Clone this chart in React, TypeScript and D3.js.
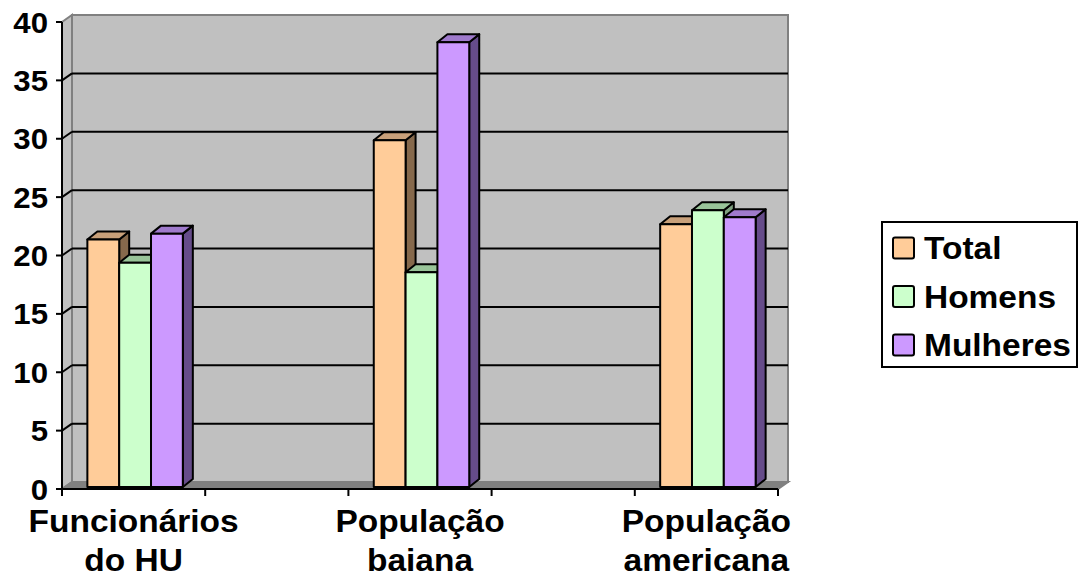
import React from "react";
import * as d3 from "d3";

// Categories (blank slots act as spacers between the labelled groups)
const categories = ["Funcionários do HU", "gap1", "População baiana", "gap2", "População americana"];
const categoryLines: Record<string, string[]> = {
  "Funcionários do HU": ["Funcionários", "do HU"],
  "População baiana": ["População", "baiana"],
  "População americana": ["População", "americana"],
};
const seriesNames = ["Total", "Homens", "Mulheres"];
const totalValues = [21.2, null, 29.7, null, 22.5];
const homensValues = [19.2, null, 18.4, null, 23.7];
const mulheresValues = [21.7, null, 38.1, null, 23.1];
const yTicks = [0, 5, 10, 15, 20, 25, 30, 35, 40];

const seriesValues = [totalValues, homensValues, mulheresValues];
const seriesColors = [
  { front: "#FFCC99", top: "#C8A07A", side: "#86694C" },
  { front: "#CCFFCC", top: "#99C499", side: "#7FA07F" },
  { front: "#CC99FF", top: "#9F7ACC", side: "#664C8A" },
];

const W = 1081;
const H = 583;
const FONT = "'Liberation Sans', Arial, sans-serif";
const STRETCH = 1.08;

export default function App() {
  // front plane of the plot
  const x0 = 62;
  const x1 = 778;
  const yBottom = 489;
  const yTop = 22;
  // wall depth offset
  const DX = 10;
  const DY = -7;

  const y = d3.scaleLinear().domain([0, 40]).range([yBottom, yTop]);
  const xBand = d3.scaleBand<string>().domain(categories).range([x0, x1]).padding(0);
  const catW = xBand.bandwidth();
  const barW = catW / 4.5;
  const gapOffset = barW * 0.75;

  // bars sit slightly behind the front plane
  const bx = 1.5;
  const by = -2;
  const bDX = 10;
  const bDY = -8;

  const gridVals = yTicks.filter((v) => v > 0 && v < 40);

  const bars: React.ReactNode[] = [];
  categories.forEach((c, ci) => {
    seriesValues.forEach((vals, si) => {
      const v = vals[ci];
      if (v == null) return;
      const left = (xBand(c) as number) + gapOffset + si * barW + bx;
      const right = left + barW;
      const top = y(v) + by;
      const base = yBottom + by;
      const col = seriesColors[si];
      bars.push(
        <g key={`${c}-${si}`} stroke="#000" strokeWidth={2} strokeLinejoin="round">
          <polygon
            points={`${right},${top} ${right + bDX},${top + bDY} ${right + bDX},${base + bDY} ${right},${base}`}
            fill={col.side}
          />
          <polygon
            points={`${left},${top} ${left + bDX},${top + bDY} ${right + bDX},${top + bDY} ${right},${top}`}
            fill={col.top}
          />
          <rect x={left} y={top} width={barW} height={base - top} fill={col.front} />
        </g>
      );
    });
  });

  const boundaries = d3.range(categories.length + 1).map((i) => x0 + i * catW);

  return (
    <svg width={W} height={H} style={{ position: "absolute", left: 0, top: 0, background: "#fff" }}>
      {/* back wall */}
      <rect x={x0 + DX} y={yTop + DY} width={x1 - x0} height={yBottom - yTop} fill="#C0C0C0" stroke="#808080" strokeWidth={2} />
      {/* left wall */}
      <polygon
        points={`${x0},${yTop} ${x0 + DX},${yTop + DY} ${x0 + DX},${yBottom + DY} ${x0},${yBottom}`}
        fill="#C0C0C0"
        stroke="#808080"
        strokeWidth={2}
      />
      {/* floor */}
      <polygon
        points={`${x0},${yBottom} ${x0 + DX},${yBottom + DY} ${x1 + DX},${yBottom + DY} ${x1},${yBottom}`}
        fill="#808080"
        stroke="#808080"
        strokeWidth={2}
      />
      {/* gridlines */}
      {gridVals.map((v) => (
        <g key={`g${v}`} stroke="#000" strokeWidth={2}>
          <line x1={x0} y1={y(v)} x2={x0 + DX} y2={y(v) + DY} />
          <line x1={x0 + DX} y1={y(v) + DY} x2={x1 + DX} y2={y(v) + DY} />
        </g>
      ))}
      {bars}
      {/* axes */}
      <line x1={x0} y1={yTop} x2={x0} y2={yBottom} stroke="#000" strokeWidth={2} />
      <line x1={x0} y1={yBottom} x2={x1} y2={yBottom} stroke="#000" strokeWidth={2} />
      {yTicks.map((v) => (
        <g key={`t${v}`}>
          <line x1={x0 - 6} y1={y(v)} x2={x0} y2={y(v)} stroke="#000" strokeWidth={2} />
          <g transform={`translate(48,${y(v) + 10.5}) scale(1.04,1)`}>
            <text x={0} y={0} textAnchor="end" fontFamily={FONT} fontWeight="bold" fontSize={30} fill="#000">
              {v}
            </text>
          </g>
        </g>
      ))}
      {boundaries.map((bx0, i) => (
        <line key={`xt${i}`} x1={bx0} y1={yBottom} x2={bx0} y2={yBottom + 7} stroke="#000" strokeWidth={2} />
      ))}
      {categories.map((c) =>
        categoryLines[c] ? (
          <g key={`cl${c}`} transform={`translate(${(xBand(c) as number) + catW / 2},0) scale(${STRETCH},1)`}>
            <text textAnchor="middle" fontFamily={FONT} fontWeight="bold" fontSize={31} fill="#000">
              {categoryLines[c].map((ln, li) => (
                <tspan key={li} x={0} y={532 + li * 39}>
                  {ln}
                </tspan>
              ))}
            </text>
          </g>
        ) : null
      )}
      {/* legend */}
      <rect x={882} y={222} width={195} height={145} fill="#fff" stroke="#000" strokeWidth={2} />
      {seriesNames.map((s, i) => (
        <g key={s}>
          <rect x={893} y={237.5 + i * 48.5} width={21} height={21} rx={2} fill={seriesColors[i].front} stroke="#000" strokeWidth={2} />
          <g transform={`translate(924,${259 + i * 48.5}) scale(${STRETCH},1)`}>
            <text x={0} y={0} fontFamily={FONT} fontWeight="bold" fontSize={31} fill="#000">
              {s}
            </text>
          </g>
        </g>
      ))}
    </svg>
  );
}
